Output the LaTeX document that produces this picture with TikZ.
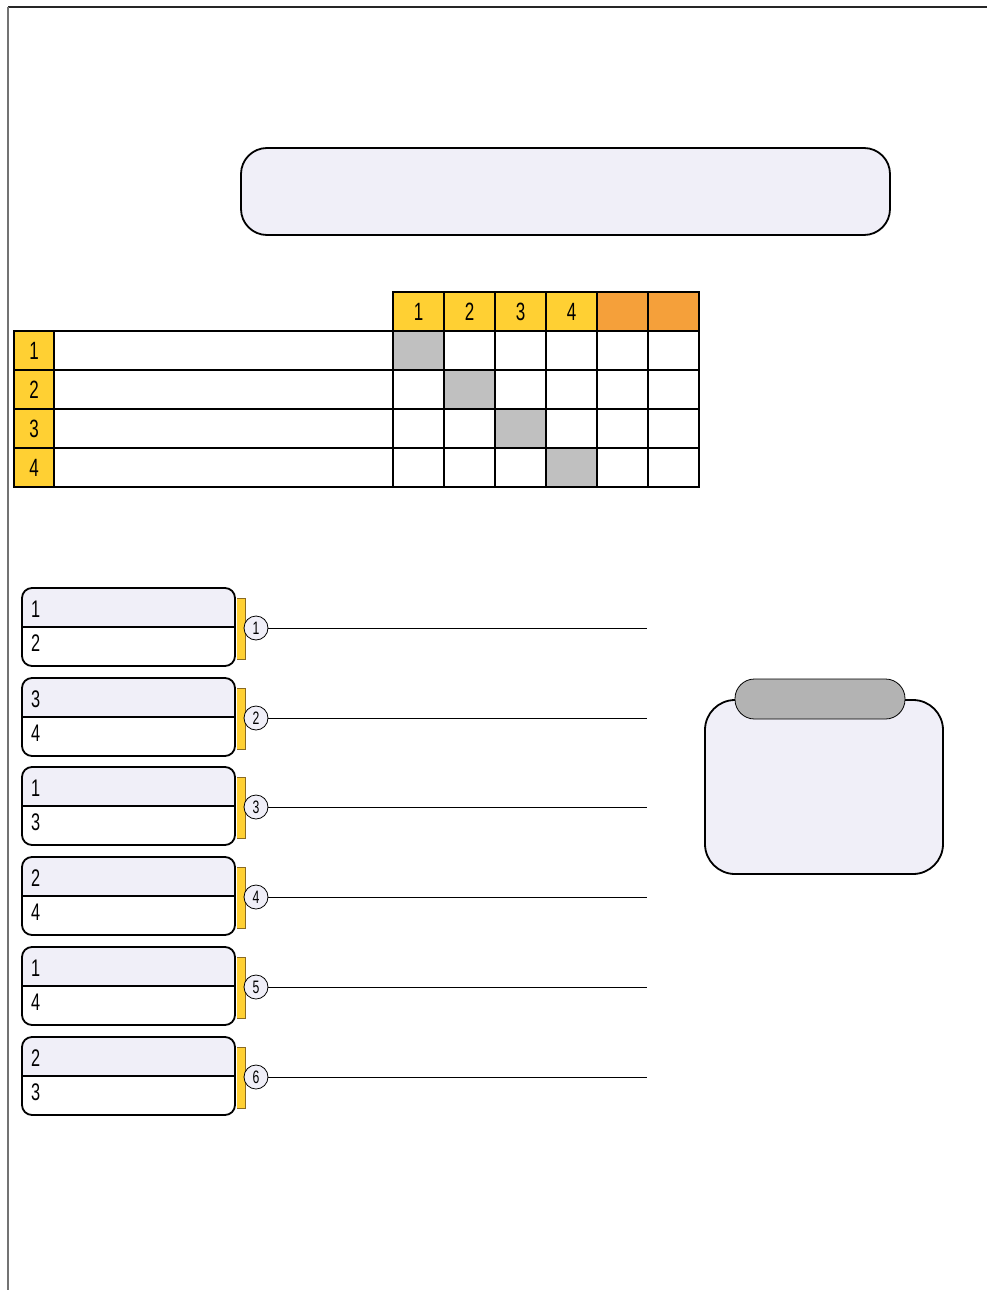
\documentclass[tikz,border=0pt]{standalone}
\usepackage{fontspec}
\setmainfont{Liberation Sans}[FakeStretch=0.68]
\begin{document}
\begin{tikzpicture}[x=1pt,y=-1pt,
  hdr/.style={draw=black,line width=1.6pt,fill=ylw,minimum width=51pt,minimum height=39pt,inner sep=0pt,font=\fontsize{25}{25}\selectfont},
  hdro/.style={hdr,fill=org},
  cell/.style={draw=black,line width=1.6pt,fill=white,minimum width=51pt,minimum height=39pt,inner sep=0pt},
  gcell/.style={cell,fill=gry},
  rnum/.style={draw=black,line width=1.6pt,fill=ylw,minimum width=40pt,minimum height=39pt,inner sep=0pt,font=\fontsize{25}{25}\selectfont},
  rlab/.style={draw=black,line width=1.6pt,fill=white,minimum width=339pt,minimum height=39pt,inner sep=0pt},
  mtxt/.style={anchor=west,inner sep=0pt,font=\fontsize{24}{24}\selectfont},
  mcirc/.style={circle,draw=black,line width=0.8pt,fill=lavbg,minimum size=24pt,inner sep=0pt,font=\fontsize{18}{18}\selectfont},
  mline/.style={line width=0.9pt,black}
]
\definecolor{lavbg}{HTML}{F0EFF8}
\definecolor{ylw}{HTML}{FFD033}
\definecolor{org}{HTML}{F5A03A}
\definecolor{gry}{HTML}{C0C0C0}
\definecolor{pill}{HTML}{B3B3B3}
\definecolor{brk}{HTML}{8A6A20}
\useasboundingbox (0,0) rectangle (987,1290);
% page border
\draw[line width=1.5pt,black!85] (8,7) -- (987,7);
\draw[line width=1.6pt,black!55] (8,7) -- (8,1290);
% title box
\draw[line width=1.8pt,fill=lavbg,rounded corners=26pt] (241,148) rectangle (890,235);
% table header
\foreach \i in {1,...,4}{
  \node[hdr] (h\i) at ({393+51*(\i-1)+25.5},311.5) {\i};
}
\node[hdro] (h5) at ({393+51*4+25.5},311.5) {};
\node[hdro] (h6) at ({393+51*5+25.5},311.5) {};
% rows
\foreach \r in {1,...,4}{
  \node[rnum] (r\r) at (34,{331+39*(\r-1)+19.5}) {\r};
  \node[rlab] (l\r) at (223.5,{331+39*(\r-1)+19.5}) {};
  \foreach \c in {1,...,6}{
    \ifnum\r=\c
      \node[gcell] (c\r\c) at ({393+51*(\c-1)+25.5},{331+39*(\r-1)+19.5}) {};
    \else
      \node[cell] (c\r\c) at ({393+51*(\c-1)+25.5},{331+39*(\r-1)+19.5}) {};
    \fi
  }
}
% matches
\foreach \k/\a/\b/\yy in {1/1/2/588,2/3/4/678,3/1/3/767,4/2/4/857,5/1/4/947,6/2/3/1037}{
  \begin{scope}[yshift={-(\yy-588)}]
  \fill[lavbg,rounded corners=10pt] (22,588) -- (22,627) -- (235,627) -- (235,588) -- cycle;
  \fill[lavbg] (22,610) rectangle (235,627);
  \draw[line width=1.8pt,rounded corners=10pt] (22,588) rectangle (235,666);
  \draw[line width=1.8pt] (22,627) -- (235,627);
  \node[mtxt] (ta\k) at (31,609) {\a};
  \node[mtxt] (tb\k) at (31,643) {\b};
  \fill[ylw] (237,598) rectangle (245,659);
  \draw[brk,line width=1pt] (237,598) -- (245,598) -- (245,659) -- (237,659);
  \node[mcirc] (m\k) at (256,628) {\k};
  \coordinate (e\k) at (647,628);
  \draw[mline] (m\k) -- (e\k);
  \end{scope}
}
% right box
\draw[line width=1.8pt,fill=lavbg,rounded corners=30pt] (705,700) rectangle (943,874);
\draw[line width=0.8pt,fill=pill,rounded corners=19.5pt] (735,679) rectangle (905,719);
\end{tikzpicture}
\end{document}
